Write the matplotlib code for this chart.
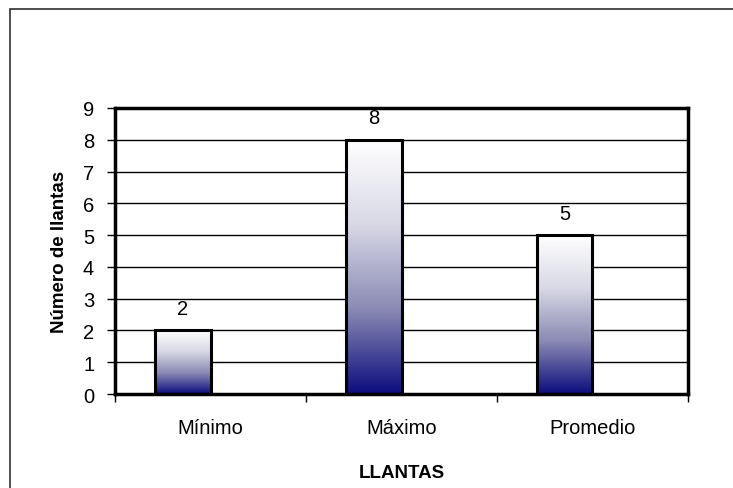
import matplotlib.pyplot as plt
import numpy as np
from matplotlib.colors import LinearSegmentedColormap
from matplotlib.patches import Rectangle

plt.rcParams['font.family'] = ['Liberation Sans', 'DejaVu Sans']

categories = ['Mínimo', 'Máximo', 'Promedio']
values = [2, 8, 5]

bar_w = 0.29
navy = '#0c0c7e'
cmap = LinearSegmentedColormap.from_list('fade', ['#ffffff', '#d8d8e6', '#8a8ab4', navy])

fig = plt.figure(figsize=(7.33, 4.89), dpi=100)
ax = fig.add_axes([0.1569, 0.1922, 0.7817, 0.5849])

# outer frame of the chart area (only left and top edges fall inside the image)
fig.patches.append(Rectangle((10 / 733, -0.2), 1.2, 1 - 10 / 489 + 0.2,
                             transform=fig.transFigure, fill=False,
                             edgecolor='#303030', linewidth=1.2))

# first row is drawn at the top of each bar: white on top, navy at the base
grad = np.linspace(0, 1, 256).reshape(-1, 1)
for i, v in enumerate(values):
    x0, x1 = i - bar_w, i
    ax.imshow(grad, cmap=cmap, extent=[x0, x1, 0, v], aspect='auto',
              interpolation='bicubic', zorder=2)
    ax.add_patch(Rectangle((x0, 0), bar_w, v, fill=False,
                           edgecolor='black', linewidth=2.2, zorder=3))
    ax.annotate(str(v), (i - bar_w / 2, v), xytext=(0, 9),
                textcoords='offset points', ha='center', va='bottom',
                fontsize=14.5)

ax.set_xlim(-0.5, 2.5)
ax.set_ylim(0, 9)
ax.set_yticks(range(10))
ax.yaxis.grid(True, color='black', linewidth=1.0)
ax.set_axisbelow(True)

ax.set_xticks(range(3))
ax.set_xticklabels(categories)
ax.set_xticks([-0.5, 0.5, 1.5, 2.5], minor=True)
ax.tick_params(axis='x', which='major', length=0, pad=17, labelsize=14.5)
ax.tick_params(axis='x', which='minor', length=6, width=1, direction='out')
ax.tick_params(axis='y', length=6, width=1, direction='out', pad=9, labelsize=14.5)

for s in ax.spines.values():
    s.set_linewidth(2.5)

ax.set_ylabel('Número de llantas', fontsize=13.5, fontweight='bold', labelpad=11)
ax.set_xlabel('LLANTAS', fontsize=13.5, fontweight='bold', labelpad=20)

fig.savefig('out.png', dpi=100)
